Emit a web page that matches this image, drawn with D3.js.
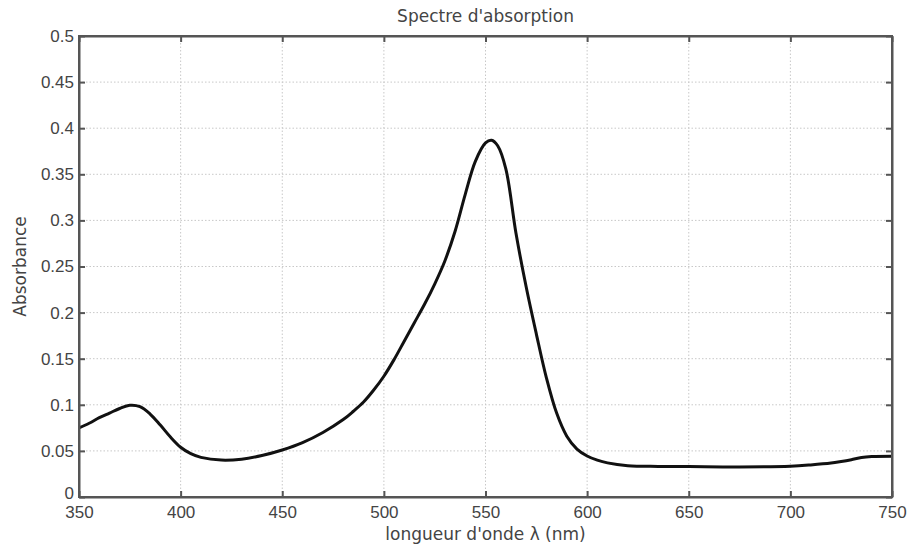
<!DOCTYPE html>
<html lang="fr">
<head>
    <meta charset="UTF-8">
    <title>Spectre d'absorption</title>
    <script src="https://d3js.org/d3.v7.min.js"></script>
    <style>
        body { margin: 0; background: #fff; }
        svg { display: block; font-family: "DejaVu Sans", sans-serif; }
        .grid line { stroke: #c8c8c8; stroke-width: 1px; stroke-dasharray: 1.5 2; }
        .axis text { font-size: 17px; fill: #444; }
        .axis line, .axis path { stroke: #555; }
        .label { font-size: 17px; fill: #444; }
        .title { font-size: 17px; fill: #444; }
        .spectre { fill: none; stroke: #111; stroke-width: 3px; }
    </style>
</head>
<body>
    <svg width="909" height="544"></svg>
    <script>
        // longueurs d'onde (nm) et absorbance
        const lambda = [350, 355, 360, 365, 370, 375, 380, 385, 390, 395, 400, 405, 410, 420, 430, 440, 450, 460, 470, 480, 485, 490, 495,
            500, 505, 510, 515, 520, 525, 530, 535, 540, 545, 550, 553, 556, 560, 565, 570, 575, 580, 585, 590, 595,
            600, 605, 610, 620, 635, 650, 675, 700, 710, 720, 725, 730, 735, 740, 750];
        const absorbance = [0.075, 0.080, 0.086, 0.091, 0.096, 0.0995, 0.098, 0.090, 0.078, 0.065, 0.054, 0.047, 0.043, 0.040, 0.041, 0.045, 0.051, 0.059, 0.070, 0.084, 0.093, 0.103, 0.116,
            0.131, 0.149, 0.169, 0.189, 0.209, 0.231, 0.256, 0.288, 0.328, 0.364, 0.384, 0.387, 0.381, 0.356, 0.286, 0.228, 0.177, 0.129, 0.091, 0.066, 0.052,
            0.0445, 0.040, 0.037, 0.034, 0.0332, 0.033, 0.0326, 0.0334, 0.0348, 0.0368, 0.0385, 0.0405, 0.0428, 0.0438, 0.0442];

        const xTicks = [350, 400, 450, 500, 550, 600, 650, 700, 750];
        const yTicks = [0, 0.05, 0.1, 0.15, 0.2, 0.25, 0.3, 0.35, 0.4, 0.45, 0.5];

        const svg = d3.select('svg');
        const margin = { top: 36, right: 17, bottom: 47, left: 79 };
        const width = 909 - margin.left - margin.right;
        const height = 544 - margin.top - margin.bottom;

        const x = d3.scaleLinear().domain([350, 750]).range([0, width]);
        const y = d3.scaleLinear().domain([0, 0.5]).range([height, 0]);

        const g = svg.append('g').attr('transform', `translate(${margin.left},${margin.top})`);

        // grille pointillée
        g.append('g').attr('class', 'grid')
            .selectAll('line')
            .data(xTicks.slice(1, -1))
            .join('line')
            .attr('x1', d => x(d)).attr('x2', d => x(d))
            .attr('y1', 0).attr('y2', height);

        g.append('g').attr('class', 'grid')
            .selectAll('line')
            .data(yTicks.slice(1, -1))
            .join('line')
            .attr('x1', 0).attr('x2', width)
            .attr('y1', d => y(d)).attr('y2', d => y(d));

        // courbe
        const line = d3.line()
            .x((d, i) => x(lambda[i]))
            .y(d => y(d))
            .curve(d3.curveCatmullRom.alpha(0.5));

        g.append('path')
            .datum(absorbance)
            .attr('class', 'spectre')
            .attr('d', line);

        // axes avec graduations vers l'intérieur
        g.append('g').attr('class', 'axis')
            .attr('transform', `translate(0,${height})`)
            .call(d3.axisBottom(x).tickValues(xTicks).tickFormat(d3.format('d')).tickSizeInner(-6).tickSizeOuter(0).tickPadding(9));
        const yAxis = g.append('g').attr('class', 'axis')
            .call(d3.axisLeft(y).tickValues(yTicks).tickFormat(d => d === 0 ? '0' : String(+d.toFixed(2))).tickSizeInner(-6).tickSizeOuter(0).tickPadding(5));
        // le "0" remonte un peu pour ne pas chevaucher "350"
        yAxis.selectAll('.tick text').filter(d => d === 0).attr('dy', '0.08em');
        g.append('g').attr('class', 'axis')
            .call(d3.axisTop(x).tickValues(xTicks).tickFormat('').tickSizeInner(-6).tickSizeOuter(0));
        g.append('g').attr('class', 'axis')
            .attr('transform', `translate(${width},0)`)
            .call(d3.axisRight(y).tickValues(yTicks).tickFormat('').tickSizeInner(-6).tickSizeOuter(0));

        g.selectAll('.axis path').attr('stroke-width', 2);
        g.selectAll('.axis line').attr('stroke-width', 2);

        // cadre
        g.append('rect')
            .attr('width', width).attr('height', height)
            .attr('fill', 'none').attr('stroke', '#555').attr('stroke-width', 2);

        // textes
        svg.append('text').attr('class', 'title')
            .attr('x', margin.left + width / 2).attr('y', 22)
            .attr('text-anchor', 'middle')
            .text("Spectre d'absorption");

        svg.append('text').attr('class', 'label')
            .attr('x', margin.left + width / 2).attr('y', 540)
            .attr('text-anchor', 'middle')
            .text("longueur d'onde λ (nm)");

        svg.append('text').attr('class', 'label')
            .attr('transform', `translate(26,${margin.top + height / 2}) rotate(-90)`)
            .attr('text-anchor', 'middle')
            .text('Absorbance');
    </script>
</body>
</html>
